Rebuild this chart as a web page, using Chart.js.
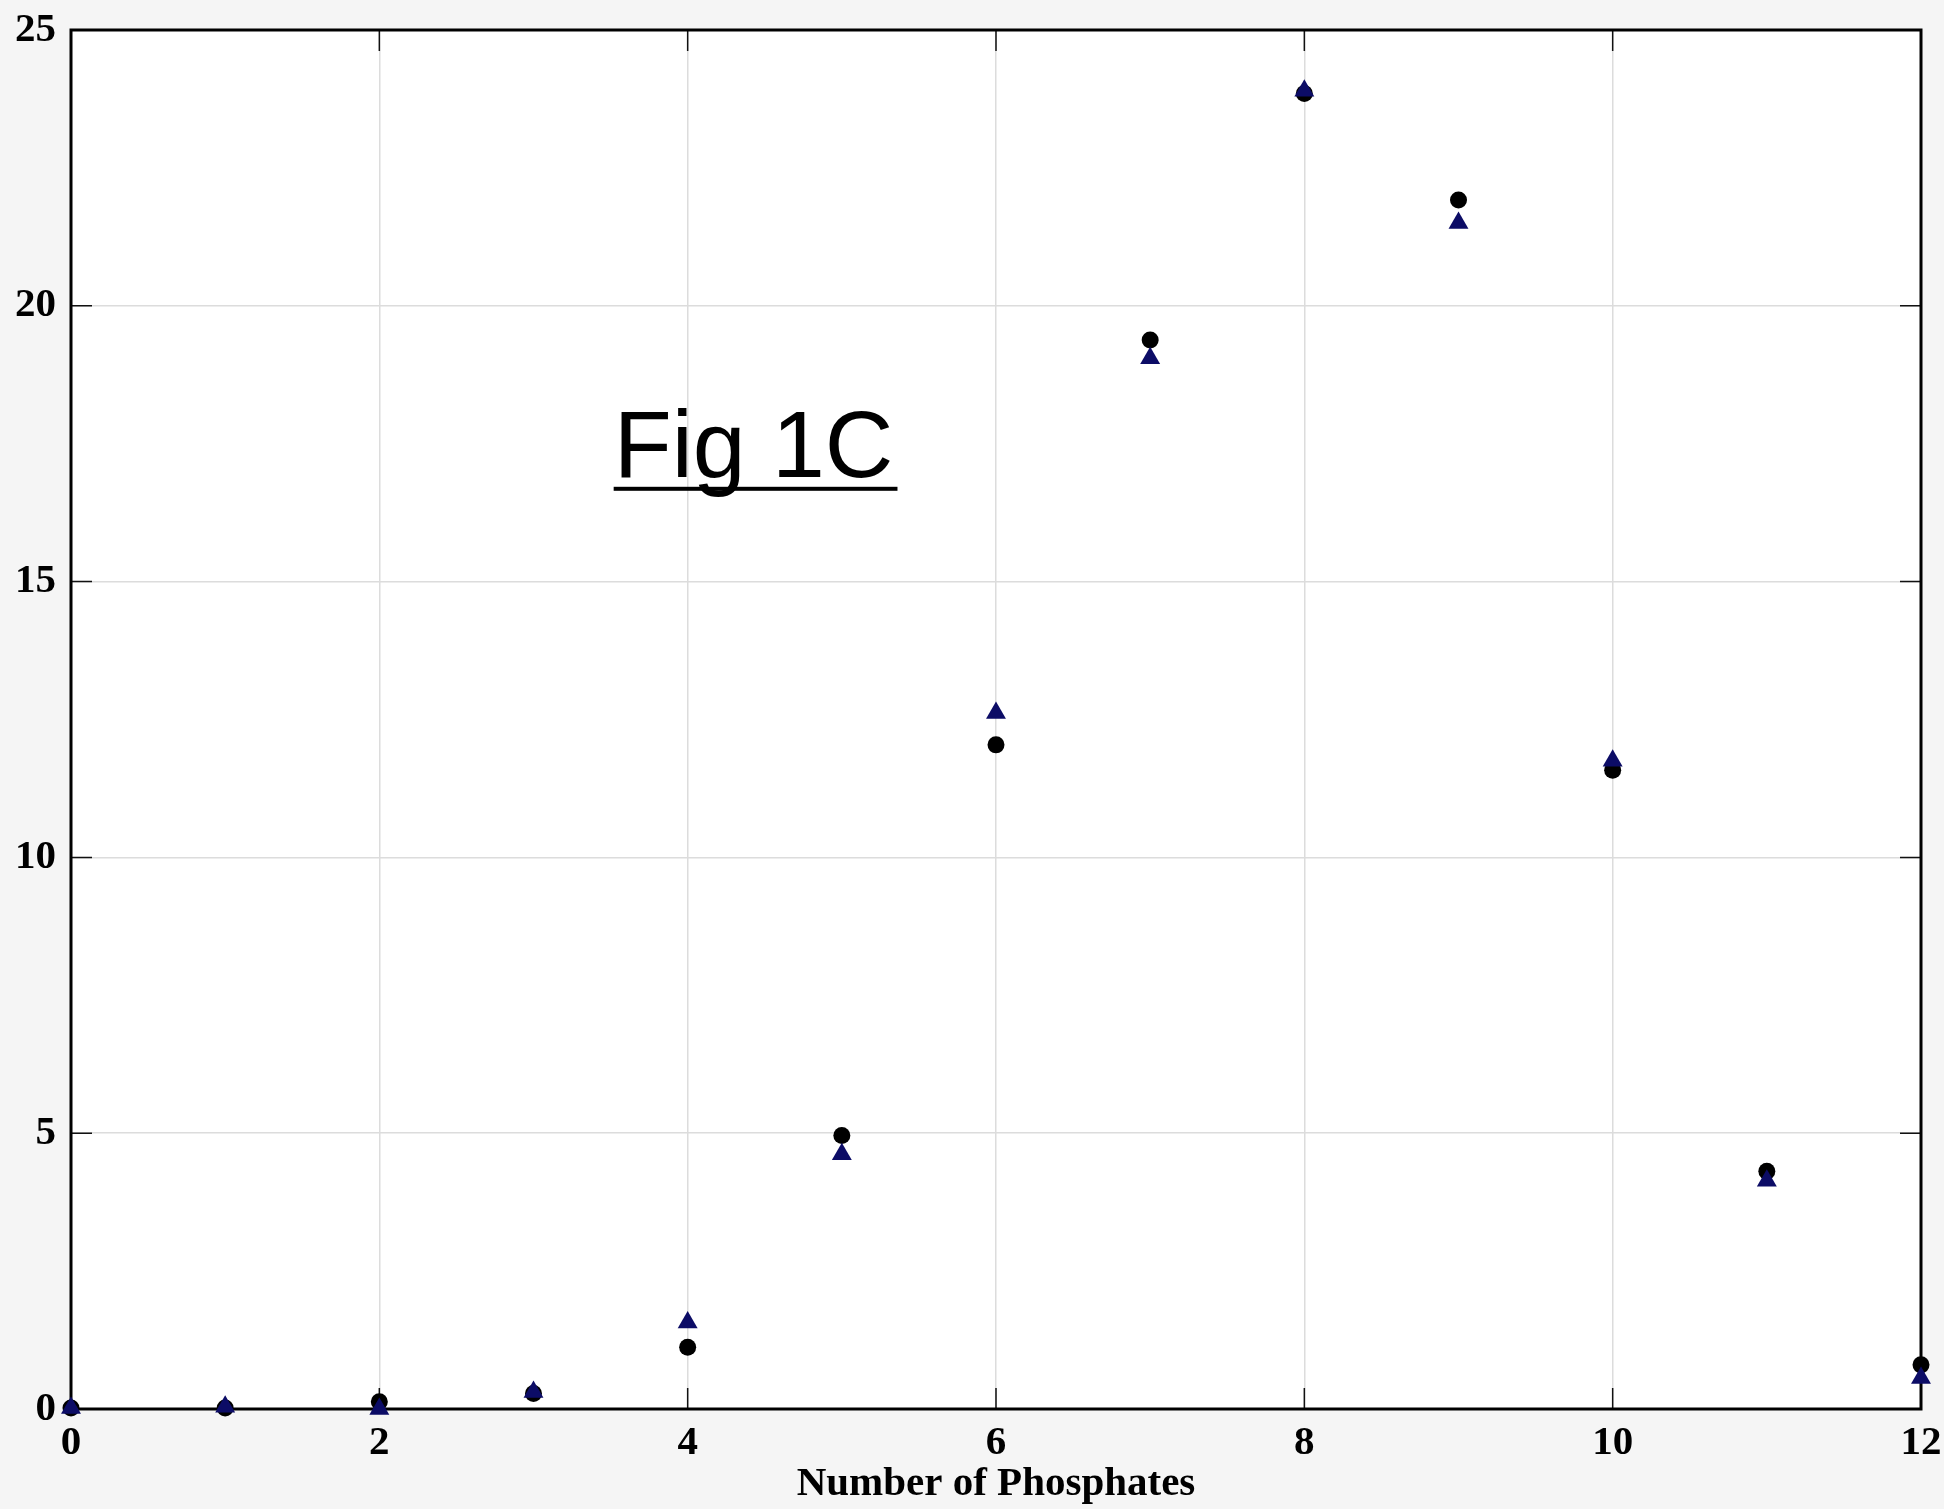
<!DOCTYPE html>
<html>
<head>
<meta charset="utf-8">
<script src="https://cdn.jsdelivr.net/npm/chart.js@4.4.1/dist/chart.umd.min.js"></script>
<style>
  html, body { margin: 0; padding: 0; background: #f5f5f5; }
  #wrap { width: 1944px; height: 1509px; }
</style>
</head>
<body>
<div id="wrap"><canvas id="myChart" width="1944" height="1509"></canvas></div>
<script>
// number of phosphates (x) and the two measured series
const phosphates = [0, 1, 2, 3, 4, 5, 6, 7, 8, 9, 10, 11, 12];
const circleValues = [0.02, 0.02, 0.13, 0.28, 1.12, 4.96, 12.04, 19.38, 23.85, 21.92, 11.58, 4.31, 0.8];
const triangleValues = [0.02, 0.04, 0.0, 0.31, 1.57, 4.62, 12.62, 19.05, 23.9, 21.5, 11.75, 4.14, 0.56];
const xTicks = [0, 2, 4, 6, 8, 10, 12];
const yTicks = [0, 5, 10, 15, 20, 25];

const toPoints = (vals) => phosphates.map((x, i) => ({ x: x, y: vals[i] }));

const serif = '"Liberation Serif", "Times New Roman", serif';

// white plot area, frame, inward ticks, and the "Fig 1C" label
const plotDecor = {
    id: 'plotDecor',
    beforeDraw(chart) {
        const { ctx, chartArea: a } = chart;
        ctx.save();
        ctx.fillStyle = '#ffffff';
        ctx.fillRect(a.left, a.top, a.right - a.left, a.bottom - a.top);
        ctx.restore();
    },
    beforeDatasetsDraw(chart) {
        const { ctx, chartArea: a, scales } = chart;
        ctx.save();
        ctx.strokeStyle = '#111';
        ctx.lineWidth = 1.5;
        const len = 21;
        xTicks.forEach(v => {
            const px = scales.x.getPixelForValue(v);
            ctx.beginPath();
            ctx.moveTo(px, a.bottom); ctx.lineTo(px, a.bottom - len);
            ctx.moveTo(px, a.top); ctx.lineTo(px, a.top + len);
            ctx.stroke();
        });
        yTicks.forEach(v => {
            const py = scales.y.getPixelForValue(v);
            ctx.beginPath();
            ctx.moveTo(a.left, py); ctx.lineTo(a.left + len, py);
            ctx.moveTo(a.right, py); ctx.lineTo(a.right - len, py);
            ctx.stroke();
        });
        ctx.lineWidth = 3;
        ctx.strokeStyle = '#000';
        ctx.strokeRect(a.left, a.top, a.right - a.left, a.bottom - a.top);

        // figure label
        const lx = scales.x.getPixelForValue(3.52);
        const ly = scales.y.getPixelForValue(16.9);
        ctx.font = '95px "Liberation Sans", Arial, sans-serif';
        ctx.fillStyle = '#000';
        ctx.textBaseline = 'alphabetic';
        ctx.textAlign = 'left';
        const label = 'Fig 1C';
        ctx.fillText(label, lx, ly);
        const w = ctx.measureText(label).width;
        ctx.fillRect(lx, ly + 10, w + 4, 4);
        ctx.restore();
    }
};

document.addEventListener('DOMContentLoaded', () => {
    const ctx = document.getElementById('myChart');
    new Chart(ctx, {
        type: 'scatter',
        data: {
            datasets: [
                {
                    label: 'triangles',
                    data: toPoints(triangleValues),
                    pointStyle: 'triangle',
                    pointRadius: 11.5,
                    pointBackgroundColor: '#0c0c66',
                    pointBorderColor: '#0c0c66',
                    pointBorderWidth: 0,
                    clip: false,
                    order: 1
                },
                {
                    label: 'circles',
                    data: toPoints(circleValues),
                    pointStyle: 'circle',
                    pointRadius: 8.5,
                    pointBackgroundColor: '#000000',
                    pointBorderColor: '#000000',
                    pointBorderWidth: 0,
                    clip: false,
                    order: 2
                }
            ]
        },
        options: {
            responsive: false,
            animation: false,
            layout: { padding: { top: 30, right: 23, left: 0, bottom: 0 } },
            plugins: {
                legend: { display: false },
                tooltip: { enabled: false }
            },
            scales: {
                x: {
                    type: 'linear',
                    min: 0,
                    max: 12,
                    afterBuildTicks: (scale) => { scale.ticks = xTicks.map(v => ({ value: v })); },
                    afterFit: (scale) => {
                        scale.height = 100;
                        scale.paddingRight = 0;
                        scale.paddingLeft = 0;
                    },
                    grid: { color: '#dcdcdc', lineWidth: 1.5, drawTicks: false },
                    border: { display: false },
                    ticks: {
                        color: '#000',
                        font: { family: serif, size: 41, weight: 'bold' },
                        padding: 10,
                        maxRotation: 0
                    },
                    title: {
                        display: true,
                        text: 'Number of Phosphates',
                        color: '#000',
                        font: { family: serif, size: 41, weight: 'bold' },
                        padding: { top: -14, bottom: 0 }
                    }
                },
                y: {
                    type: 'linear',
                    min: 0,
                    max: 25,
                    afterBuildTicks: (scale) => { scale.ticks = yTicks.map(v => ({ value: v })); },
                    afterFit: (scale) => {
                        scale.width = 71;
                        scale.paddingTop = 0;
                        scale.paddingBottom = 0;
                    },
                    grid: { color: '#dcdcdc', lineWidth: 1.5, drawTicks: false },
                    border: { display: false },
                    ticks: {
                        color: '#000',
                        font: { family: serif, size: 41, weight: 'bold' },
                        padding: 15
                    }
                }
            }
        },
        plugins: [plotDecor]
    });
});
</script>
</body>
</html>
